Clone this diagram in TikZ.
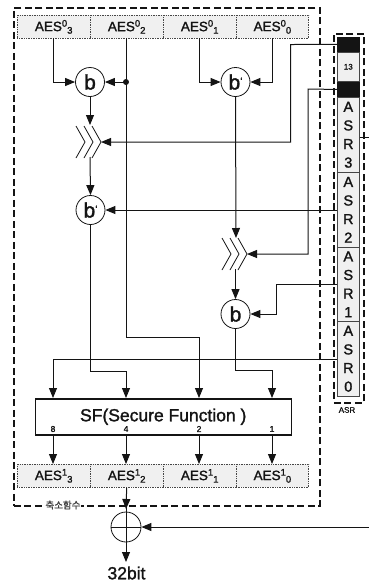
\documentclass[tikz,border=0pt]{standalone}
\usepackage{fontspec}
\setmainfont[FakeBold=1.5]{Liberation Sans}
\newfontfamily\cjkf[FakeBold=1]{Noto Sans CJK KR}
\usetikzlibrary{arrows.meta}
\definecolor{ink}{gray}{0.08}
\definecolor{cell}{gray}{0.94}
\newcommand{\aesl}[2]{AES\raisebox{4.5pt}{\fontsize{9.5}{10}\selectfont #1}\raisebox{-2.5pt}{\fontsize{9.5}{10}\selectfont #2}}
\tikzset{
 x=1pt,y=-1pt,
 lineink/.style={draw=ink,line width=1pt},
 flow/.style={lineink,-{Triangle[length=10pt,width=8pt]}},
 wire/.style={lineink},
 chev/.style={draw=ink,line width=0.8pt},
 dbox/.style={draw=ink,line width=1.6pt,dash pattern=on 7pt off 3.5pt,inner sep=0pt,anchor=north west},
 aes/.style={draw=gray!55!black,line width=0.7pt,densely dotted,fill=cell,minimum width=72.7pt,minimum height=23pt,inner sep=0pt,font=\fontsize{13.5}{15}\selectfont,text=ink,anchor=north west},
 op/.style={circle,draw=ink,line width=0.8pt,fill=white,minimum size=29pt,inner sep=0pt,font=\fontsize{21}{22}\selectfont,text=ink},
 asrc/.style={draw=gray!55!black,line width=0.6pt,fill=cell,minimum width=22pt,inner sep=0pt,anchor=north west,align=center,text=ink,font=\fontsize{14.5}{18.6}\selectfont},
 blk/.style={fill=ink,draw=ink,minimum width=22pt,minimum height=15.5pt,inner sep=0pt,anchor=north west},
}
\begin{document}
\begin{tikzpicture}
\useasboundingbox (0,0) rectangle (369,582);
% dashed frames
\node[dbox,minimum width=306pt,minimum height=498pt] (frame) at (13,7) {};
\node[dbox,minimum width=30pt,minimum height=369pt] (asrframe) at (333,33) {};
% top row
\node[aes] (a3) at (17,15) {\aesl{0}{3}};
\node[aes] (a2) at (90,15) {\aesl{0}{2}};
\node[aes] (a1) at (163,15) {\aesl{0}{1}};
\node[aes] (a0) at (235.7,15) {\aesl{0}{0}};
% bottom row
\node[aes] (c3) at (17,464) {\aesl{1}{3}};
\node[aes] (c2) at (90,464) {\aesl{1}{2}};
\node[aes] (c1) at (163,464) {\aesl{1}{1}};
\node[aes] (c0) at (235.7,464) {\aesl{1}{0}};
% ASR column
\node[blk] (k1) at (337,36.5) {};
\node[asrc,minimum height=29pt,font=\fontsize{8}{9}\selectfont] (k13) at (337,52) {13};
\node[blk] (k2) at (337,81.5) {};
\node[asrc,minimum height=75pt] (r3) at (337,97) {A\\S\\R\\3};
\node[asrc,minimum height=75pt] (r2) at (337,172) {A\\S\\R\\2};
\node[asrc,minimum height=75pt] (r1) at (337,246.5) {A\\S\\R\\1};
\node[asrc,minimum height=75pt] (r0) at (337,321) {A\\S\\R\\0};
\node[font=\fontsize{8}{9}\selectfont,text=ink,inner sep=0pt] (asr) at (347,410) {ASR};
% ops
\node[op] (b1) at (90,82) {b};
\node[op] (bp1) at (235.5,82) {b\raisebox{5pt}{\fontsize{10}{10}\selectfont`}};
\node[op] (bp2) at (90.5,210) {b\raisebox{5pt}{\fontsize{10}{10}\selectfont`}};
\node[op] (b2) at (235.5,314) {b};
\node[op,minimum size=30pt] (xor) at (126,527) {};
% SF
\node[draw=ink,line width=1.5pt,minimum width=256pt,minimum height=36pt,inner sep=0pt,anchor=north west,font=\fontsize{17.5}{19}\selectfont,text=ink] (sf) at (34.5,398) {SF(Secure Function )};
% coordinates for shifters
\coordinate (s1tip) at (101,142);
\coordinate (s2tip) at (247,254);
% shifters
\foreach \t in {s1tip,s2tip}{
 \foreach \d in {0,8,16}{
  \draw[chev] ([shift={(-\d,0)}]\t) -- ++(-9,-16);
  \draw[chev] ([shift={(-\d,0)}]\t) -- ++(-9,16);
 }
}
% connectors
\coordinate (j) at (126,82);
\fill[ink] (j) circle (3pt);
\draw[flow] (53,38) -- (53,82) -- (b1.west);
\draw[flow] (j) -- (b1.east);
\draw[wire] (126,38) -- (j);
\draw[flow] (b1.south) -- (90,125);
\draw[flow] (90,157) -- (bp2.north);
\draw[wire] (126,82) -- (126,337) -- (199,337);
\draw[flow] (199,337) -- (199,398);
\draw[flow] (199,38) -- (199,82) -- (bp1.west);
\draw[flow] (272,38) -- (272,82) -- (bp1.east);
\draw[flow] (bp1.south) -- (236,238);
\draw[flow] (235.5,269) -- (b2.north);
\draw[flow] (k1.west) -- (290.5,44.5) -- (290.5,142) -- (s1tip);
\draw[flow] (k2.west) -- (308,89) -- (308,254) -- (s2tip);
\draw[flow] (r2.west |- 0,210) -- (bp2.east);
\draw[flow] (r1.west |- 0,284) -- (276,284) -- (276,314) -- (b2.east);
\draw[wire] (r0.west |- 0,359) -- (53,359);
\draw[flow] (53,359) -- (53,398);
\draw[wire] (bp2.south) -- (90.5,371) -- (126,371);
\draw[flow] (126,371) -- (126,398);
\draw[wire] (b2.south) -- (235.5,370) -- (272,370);
\draw[flow] (272,370) -- (272,398);
\draw[flow] (53,434) -- (53,464);
\draw[flow] (126,434) -- (126,464);
\draw[flow] (199,434) -- (199,464);
\draw[flow] (272,434) -- (272,464);
\draw[flow] (c2.south) -- (126,509);
\draw[wire] (126,505) -- (xor.south);
\draw[wire] (xor.west) -- (xor.east);
\draw[flow] (xor.south) -- (126,562);
\coordinate (xin) at (369,527);
\draw[flow] (xin) -- (xor.east);
\draw[wire,line width=0.7pt] (r3.east |- 0,137) -- (369,137);
% sf port numbers
\foreach \x/\l in {53/8,126/4,199/2,272/1}
 \node[inner sep=0pt,font=\fontsize{8.5}{9}\selectfont,text=ink] (p\l) at (\x,429) {\l};
\node[inner sep=0pt,font=\fontsize{17.5}{19}\selectfont,text=ink] (out) at (126.5,573) {32bit};
\node[fill=white,inner sep=0.5pt,font=\cjkf\fontsize{9.5}{10}\selectfont,text=gray!50!black] (title) at (63,505) {축소함수};
\end{tikzpicture}
\end{document}
